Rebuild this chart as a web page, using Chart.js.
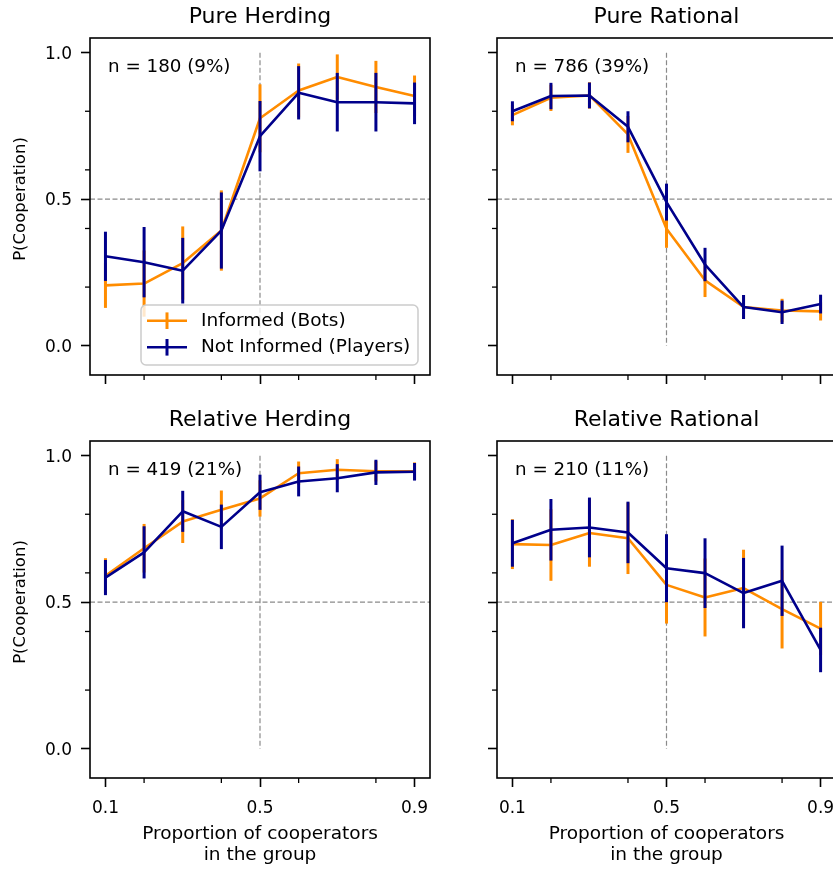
<!DOCTYPE html>
<html>
<head>
<meta charset="utf-8">
<script src="https://cdn.jsdelivr.net/npm/chart.js@4.4.0/dist/chart.umd.min.js"></script>
<style>
  html, body { margin: 0; padding: 0; background: #fff; overflow: hidden; }
  #fig { position: relative; width: 833px; height: 870px; overflow: hidden; background: #fff; }
  #fig canvas { position: absolute; }
</style>
</head>
<body>
<div id="fig">
  <canvas id="c0" width="440" height="440" style="left:0px;top:0px"></canvas>
  <canvas id="c1" width="420" height="440" style="left:440px;top:0px"></canvas>
  <canvas id="c2" width="440" height="467" style="left:0px;top:403px"></canvas>
  <canvas id="c3" width="420" height="467" style="left:440px;top:403px"></canvas>
</div>
<script>
const FONT = 'DejaVu Sans';
const ORANGE = '#ff8c00';
const BLUE = '#00008b';

// proportion of cooperators in the group
const proportions = [0.1, 0.2, 0.3, 0.4, 0.5, 0.6, 0.7, 0.8, 0.9];

const panelTitles = ['Pure Herding', 'Pure Rational', 'Relative Herding', 'Relative Rational'];
const panelCounts = ['n = 180 (9%)', 'n = 786 (39%)', 'n = 419 (21%)', 'n = 210 (11%)'];
const seriesNames = ['Informed (Bots)', 'Not Informed (Players)'];

const xMajorTicks = [0.1, 0.5, 0.9];
const xMinorTicks = [0.2, 0.4, 0.6, 0.8];
const yMajorTicks = [0, 0.5, 1];
const yMinorTicks = [0.2, 0.4, 0.6, 0.8];

// Pure Herding
const botsPureHerding = [0.206, 0.212, 0.282, 0.393, 0.776, 0.871, 0.917, 0.883, 0.852];
const botsPureHerdingErr = [0.077, 0.113, 0.125, 0.137, 0.116, 0.092, 0.077, 0.089, 0.07];
const playersPureHerding = [0.305, 0.285, 0.256, 0.393, 0.715, 0.863, 0.831, 0.831, 0.827];
const playersPureHerdingErr = [0.084, 0.12, 0.112, 0.13, 0.12, 0.091, 0.1, 0.1, 0.071];

// Pure Rational
const botsPureRational = [0.787, 0.846, 0.854, 0.721, 0.399, 0.223, 0.132, 0.12, 0.117];
const botsPureRationalErr = [0.035, 0.045, 0.045, 0.063, 0.065, 0.057, 0.041, 0.04, 0.031];
const playersPureRational = [0.8, 0.852, 0.854, 0.747, 0.49, 0.277, 0.132, 0.114, 0.142];
const playersPureRationalErr = [0.034, 0.045, 0.044, 0.053, 0.063, 0.057, 0.041, 0.04, 0.032];

// Relative Herding
const botsRelHerding = [0.59, 0.684, 0.775, 0.815, 0.854, 0.94, 0.952, 0.947, 0.947];
const botsRelHerdingErr = [0.06, 0.083, 0.073, 0.066, 0.062, 0.04, 0.036, 0.035, 0.03];
const playersRelHerding = [0.584, 0.67, 0.81, 0.757, 0.875, 0.912, 0.923, 0.943, 0.945];
const playersRelHerdingErr = [0.06, 0.089, 0.07, 0.076, 0.06, 0.051, 0.048, 0.043, 0.03];

// Relative Rational
const botsRelRational = [0.698, 0.695, 0.736, 0.718, 0.559, 0.516, 0.548, 0.476, 0.41];
const botsRelRationalErr = [0.085, 0.122, 0.115, 0.122, 0.132, 0.133, 0.131, 0.134, 0.091];
const playersRelRational = [0.701, 0.747, 0.755, 0.738, 0.616, 0.599, 0.531, 0.573, 0.337];
const playersRelRationalErr = [0.08, 0.105, 0.102, 0.105, 0.116, 0.119, 0.12, 0.12, 0.076];

const panels = [
  { id: 'c0', title: panelTitles[0], count: panelCounts[0], bots: botsPureHerding, botsErr: botsPureHerdingErr,
    players: playersPureHerding, playersErr: playersPureHerdingErr, left: true, bottom: false, legend: true },
  { id: 'c1', title: panelTitles[1], count: panelCounts[1], bots: botsPureRational, botsErr: botsPureRationalErr,
    players: playersPureRational, playersErr: playersPureRationalErr, left: false, bottom: false, legend: false },
  { id: 'c2', title: panelTitles[2], count: panelCounts[2], bots: botsRelHerding, botsErr: botsRelHerdingErr,
    players: playersRelHerding, playersErr: playersRelHerdingErr, left: true, bottom: true, legend: false },
  { id: 'c3', title: panelTitles[3], count: panelCounts[3], bots: botsRelRational, botsErr: botsRelRationalErr,
    players: playersRelRational, playersErr: playersRelRationalErr, left: false, bottom: true, legend: false }
];

function line(ctx, x1, y1, x2, y2) {
  ctx.beginPath();
  ctx.moveTo(x1, y1);
  ctx.lineTo(x2, y2);
  ctx.stroke();
}

// reference lines, error bars, frame, minor ticks, titles and legend
const panelDecor = {
  id: 'panelDecor',
  beforeDatasetsDraw(chart) {
    const { ctx, chartArea: a, scales: { x, y } } = chart;
    ctx.save();
    ctx.strokeStyle = '#8a8a8a';
    ctx.lineWidth = 1.2;
    ctx.setLineDash([5, 2.5]);
    const y5 = y.getPixelForValue(0.5);
    line(ctx, a.left, y5, a.right, y5);
    const x5 = x.getPixelForValue(0.5);
    line(ctx, x5, y.getPixelForValue(1), x5, y.getPixelForValue(0));
    ctx.restore();
  },
  afterDatasetDraw(chart, args) {
    const { ctx, scales: { y } } = chart;
    const ds = chart.data.datasets[args.index];
    ctx.save();
    ctx.strokeStyle = ds.borderColor;
    ctx.lineWidth = 3;
    ctx.lineCap = 'butt';
    args.meta.data.forEach((pt, i) => {
      const v = ds.data[i].y, e = ds.errors[i];
      line(ctx, pt.x, y.getPixelForValue(v - e), pt.x, y.getPixelForValue(v + e));
    });
    ctx.restore();
  },
  afterDraw(chart, args, opts) {
    const { ctx, chartArea: a, scales: { x, y } } = chart;
    ctx.save();

    // minor ticks
    ctx.strokeStyle = '#000';
    ctx.lineWidth = 1.3;
    xMinorTicks.forEach(v => {
      const px = x.getPixelForValue(v);
      line(ctx, px, a.bottom, px, a.bottom + 5);
    });
    yMinorTicks.forEach(v => {
      const py = y.getPixelForValue(v);
      line(ctx, a.left - 5, py, a.left, py);
    });

    // frame
    ctx.lineWidth = 1.6;
    ctx.strokeRect(a.left, a.top, a.right - a.left, a.bottom - a.top);

    // panel title
    ctx.fillStyle = '#000';
    ctx.textAlign = 'center';
    ctx.textBaseline = 'alphabetic';
    ctx.font = '22px "' + FONT + '"';
    ctx.fillText(opts.title, (a.left + a.right) / 2, a.top - 15);

    // sample size
    ctx.textAlign = 'left';
    ctx.font = '18.3px "' + FONT + '"';
    ctx.fillText(opts.count, a.left + 18, a.top + 33.5);

    // y label
    if (opts.yLabel) {
      ctx.save();
      ctx.translate(20.6, (a.top + a.bottom) / 2 - 7.5);
      ctx.rotate(-Math.PI / 2);
      ctx.textAlign = 'center';
      ctx.textBaseline = 'middle';
      ctx.font = '16.5px "' + FONT + '"';
      ctx.fillText(opts.yLabel, 0, 0);
      ctx.restore();
    }

    if (opts.legend) {
      const bx = a.right - 289, by = a.bottom - 70, bw = 277, bh = 60;
      ctx.beginPath();
      ctx.roundRect(bx, by, bw, bh, 5);
      ctx.fillStyle = 'rgba(255,255,255,0.8)';
      ctx.fill();
      ctx.strokeStyle = '#cccccc';
      ctx.lineWidth = 1.5;
      ctx.stroke();
      chart.data.datasets.forEach((ds, i) => {
        const ry = by + 15.7 + i * 26.6;
        const hx = bx + 6;
        ctx.strokeStyle = ds.borderColor;
        ctx.lineWidth = 2.6;
        line(ctx, hx, ry, hx + 40, ry);
        ctx.lineWidth = 3;
        line(ctx, hx + 20, ry - 8.3, hx + 20, ry + 8.3);
        ctx.fillStyle = '#000';
        ctx.font = '18.5px "' + FONT + '"';
        ctx.textAlign = 'left';
        ctx.textBaseline = 'middle';
        ctx.fillText(ds.label, bx + 60, ry);
      });
    }
    ctx.restore();
  }
};

function buildChart(p) {
  const toPoints = vals => vals.map((v, i) => ({ x: proportions[i], y: v }));
  const tickFont = { family: FONT, size: 17 };
  return new Chart(document.getElementById(p.id), {
    type: 'line',
    data: {
      datasets: [
        { label: seriesNames[0], data: toPoints(p.bots), errors: p.botsErr, borderColor: ORANGE, order: 2 },
        { label: seriesNames[1], data: toPoints(p.players), errors: p.playersErr, borderColor: BLUE, order: 1 }
      ]
    },
    options: {
      responsive: false,
      animation: false,
      devicePixelRatio: 1,
      events: [],
      // right-hand panels run past the page edge, so they get a wider canvas
      layout: { autoPadding: false, padding: { top: 38, right: p.left ? 10 : 24, left: 0, bottom: 0 } },
      elements: {
        point: { radius: 0 },
        line: { borderWidth: 2.6, tension: 0, borderJoinStyle: 'round', fill: false }
      },
      plugins: {
        legend: { display: false },
        tooltip: { enabled: false },
        panelDecor: {
          title: p.title,
          count: p.count,
          legend: p.legend,
          yLabel: p.left ? 'P(Cooperation)' : null
        }
      },
      scales: {
        x: {
          type: 'linear',
          min: 0.06,
          max: 0.94,
          afterBuildTicks: s => { s.ticks = xMajorTicks.map(v => ({ value: v })); },
          afterFit: s => { s.height = p.bottom ? 92 : 65; },
          border: { display: false },
          grid: { drawOnChartArea: false, tickLength: 9, tickWidth: 1.6, tickColor: '#000' },
          ticks: {
            autoSkip: false,
            maxRotation: 0,
            padding: 11,
            color: '#000',
            font: tickFont,
            callback: v => p.bottom ? v.toFixed(1) : ''
          },
          title: {
            display: p.bottom,
            text: ['Proportion of cooperators', 'in the group'],
            color: '#000',
            font: { family: FONT, size: 18.5, lineHeight: 1.135 },
            padding: { top: 0, bottom: 4.4 }
          }
        },
        y: {
          type: 'linear',
          min: -0.1,
          max: 1.05,
          afterBuildTicks: s => { s.ticks = yMajorTicks.map(v => ({ value: v })); },
          afterFit: s => { s.width = p.left ? 90 : 57; },
          border: { display: false },
          grid: { drawOnChartArea: false, tickLength: 9, tickWidth: 1.6, tickColor: '#000' },
          ticks: {
            padding: 9,
            labelOffset: 1.5,
            color: '#000',
            font: tickFont,
            callback: v => p.left ? v.toFixed(1) : ''
          }
        }
      }
    },
    plugins: [panelDecor]
  });
}

panels.forEach(buildChart);
</script>
</body>
</html>
